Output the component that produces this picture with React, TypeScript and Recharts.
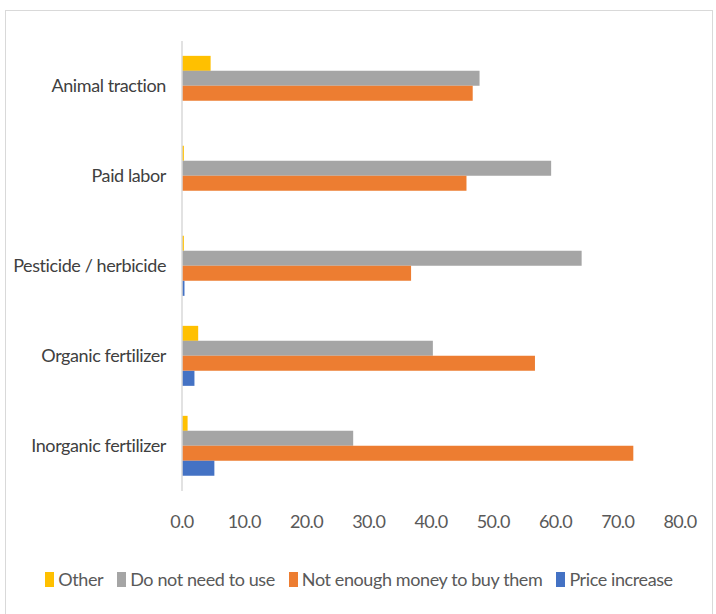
import { BarChart, Bar, XAxis, YAxis } from "recharts";

const categories = [
  "Animal traction",
  "Paid labor",
  "Pesticide / herbicide",
  "Organic fertilizer",
  "Inorganic fertilizer",
];

const other = [4.6, 0.3, 0.3, 2.6, 0.9];
const doNotNeed = [47.8, 59.3, 64.2, 40.3, 27.5];
const notEnoughMoney = [46.7, 45.7, 36.8, 56.7, 72.5];
const priceIncrease = [0, 0, 0.4, 2.0, 5.2];

const xTicks = [0, 10, 20, 30, 40, 50, 60, 70, 80];

const series = [
  { key: "other", name: "Other", color: "#FFC000" },
  { key: "doNotNeed", name: "Do not need to use", color: "#A5A5A5" },
  { key: "notEnough", name: "Not enough money to buy them", color: "#ED7D31" },
  { key: "price", name: "Price increase", color: "#4472C4" },
];

const data = categories.map((c, i) => ({
  category: c,
  other: other[i],
  doNotNeed: doNotNeed[i],
  notEnough: notEnoughMoney[i],
  price: priceIncrease[i],
}));

const font = 'Lato, "Open Sans", sans-serif';

export default function App() {
  return (
    <div
      style={{
        position: "absolute",
        left: 5,
        top: 10,
        width: 706,
        height: 603,
        border: "1px solid #d9d9d9",
        background: "#fff",
        fontFamily: font,
      }}
    >
      <BarChart
        width={706}
        height={540}
        data={data}
        layout="vertical"
        margin={{ top: 30, right: 32, bottom: 10, left: 0 }}
        barCategoryGap="16.5%"
        barGap={0}
      >
        <XAxis
          type="number"
          domain={[0, 80]}
          ticks={xTicks}
          tickFormatter={(v) => v.toFixed(1)}
          axisLine={false}
          tickLine={false}
          height={50}
          tick={{ fontSize: 18, fill: "#595959", fontFamily: font, letterSpacing: -0.6 }}
          tickMargin={18}
        />
        <YAxis
          type="category"
          dataKey="category"
          width={176}
          axisLine={{ stroke: "#d9d9d9", strokeWidth: 1.5 }}
          tickLine={false}
          tick={{ fontSize: 18, fill: "#404040", fontFamily: font, letterSpacing: -0.4 }}
          tickMargin={10}
        />
        {series.map((s) => (
          <Bar
            key={s.key}
            dataKey={s.key}
            name={s.name}
            fill={s.color}
            isAnimationActive={false}
          />
        ))}
      </BarChart>
      <div
        style={{
          position: "absolute",
          top: 557,
          left: 0,
          width: 706,
          display: "flex",
          justifyContent: "center",
          gap: 14,
          fontSize: 18,
          letterSpacing: -0.4,
          color: "#595959",
          fontFamily: font,
        }}
      >
        {series.map((s) => (
          <div key={s.key} style={{ display: "flex", alignItems: "center" }}>
            <span
              style={{
                display: "inline-block",
                width: 9,
                height: 15,
                background: s.color,
                marginRight: 4,
              }}
            />
            {s.name}
          </div>
        ))}
      </div>
    </div>
  );
}
